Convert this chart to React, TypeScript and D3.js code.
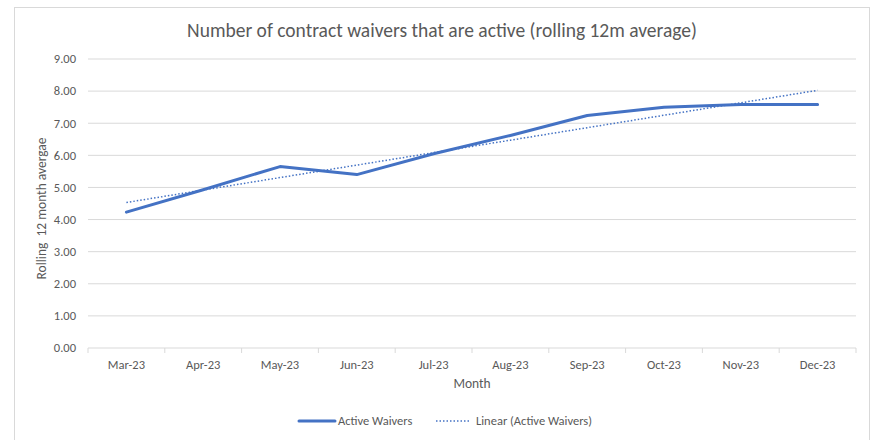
import * as d3 from "d3";

const months = ["Mar-23", "Apr-23", "May-23", "Jun-23", "Jul-23", "Aug-23", "Sep-23", "Oct-23", "Nov-23", "Dec-23"];
const activeWaivers = [4.23, 4.93, 5.65, 5.4, 6.05, 6.62, 7.24, 7.5, 7.58, 7.58];
const yTicks = [0, 1, 2, 3, 4, 5, 6, 7, 8, 9];

const W = 872;
const H = 440;
const plot = { left: 88, right: 856, top: 59, bottom: 348 };
const blue = "#4472C4";
const textColor = "#595959";
const font = "Carlito, Lato, 'Open Sans', sans-serif";

export default function App() {
  const x = d3.scaleBand().domain(months).range([plot.left, plot.right]);
  const y = d3.scaleLinear().domain([0, 9]).range([plot.bottom, plot.top]);
  const cx = (m: string) => (x(m) ?? 0) + x.bandwidth() / 2;

  // linear trend (least squares), like Excel's trendline
  const idx = activeWaivers.map((_, i) => i);
  const mx = d3.mean(idx) as number;
  const my = d3.mean(activeWaivers) as number;
  const slope =
    d3.sum(idx, (i) => (i - mx) * (activeWaivers[i] - my)) /
    d3.sum(idx, (i) => (i - mx) * (i - mx));
  const trend = idx.map((i) => my + slope * (i - mx));

  const line = d3
    .line<number>()
    .x((_, i) => cx(months[i]))
    .y((d) => y(d));

  const boundaries = d3.range(months.length + 1).map((i) => plot.left + i * x.step());

  return (
    <div style={{ position: "fixed", left: 0, top: 0 }}>
      <svg width={W} height={H} style={{ display: "block", fontFamily: font }}>
        <rect x={0} y={0} width={W} height={H} fill="#fff" />
        <rect x={14.5} y={7.5} width={855} height={H + 10} fill="none" stroke="#d9d9d9" />
        <text x={442} y={37} textAnchor="middle" fontSize={19.5} fill={textColor}>
          Number of contract waivers that are active (rolling 12m average)
        </text>

        {/* grid */}
        {yTicks.map((t) => (
          <g key={t}>
            <line x1={plot.left} x2={plot.right} y1={y(t)} y2={y(t)} stroke="#d9d9d9" strokeWidth={1} />
            <text x={76} y={y(t)} dy="0.35em" textAnchor="end" fontSize={12.5} fill={textColor}>
              {t.toFixed(2)}
            </text>
          </g>
        ))}
        {boundaries.map((b, i) => (
          <line key={i} x1={b} x2={b} y1={plot.bottom} y2={plot.bottom + 5} stroke="#d9d9d9" />
        ))}
        {months.map((m) => (
          <text key={m} x={cx(m)} y={369} textAnchor="middle" fontSize={12.5} fill={textColor}>
            {m}
          </text>
        ))}
        <text x={(plot.left + plot.right) / 2} y={388} textAnchor="middle" fontSize={13.5} fill={textColor}>
          Month
        </text>
        <text
          transform={`translate(46,${(plot.top + plot.bottom) / 2 + 5}) rotate(-90)`}
          textAnchor="middle"
          fontSize={13.5}
          fill={textColor}
          style={{ whiteSpace: "pre" }}
        >
          {"Rolling  12 month avergae"}
        </text>

        {/* series */}
        <path d={line(activeWaivers) ?? ""} fill="none" stroke={blue} strokeWidth={3} strokeLinejoin="round" strokeLinecap="round" />
        <path d={line(trend) ?? ""} fill="none" stroke={blue} strokeWidth={1.5} strokeDasharray="1.5 2" />

        {/* legend */}
        <line x1={299} x2={335} y1={421} y2={421} stroke={blue} strokeWidth={3} strokeLinecap="round" />
        <text x={338} y={421} dy="0.35em" fontSize={12.5} fill={textColor}>
          Active Waivers
        </text>
        <line x1={436} x2={471} y1={421} y2={421} stroke={blue} strokeWidth={1.5} strokeDasharray="1.5 2" />
        <text x={476} y={421} dy="0.35em" fontSize={12.5} fill={textColor}>
          Linear (Active Waivers)
        </text>
      </svg>
    </div>
  );
}
